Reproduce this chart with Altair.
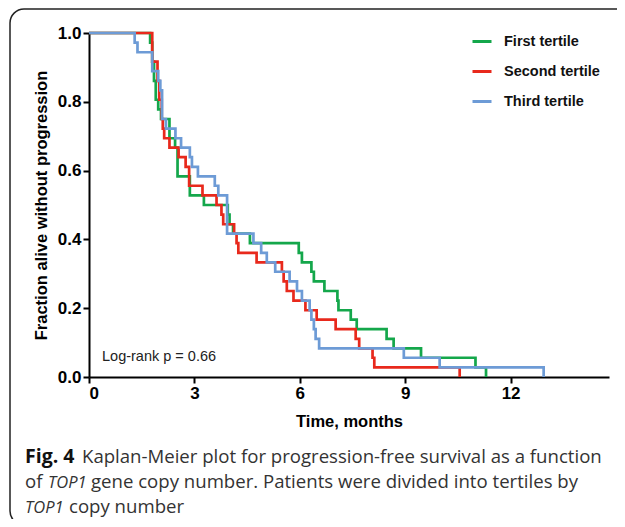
import altair as alt
import pandas as pd

# ---- data ----
series_names = ["First tertile", "Second tertile", "Third tertile"]
series_colors = ["#14a74b", "#e8291c", "#6d9bd6"]

first_t = [0, 1.74, 1.80, 1.85, 1.90, 1.97, 2.05, 2.29, 2.45, 2.52, 2.87, 3.27, 3.95, 4.00, 4.10, 4.58,
           5.97, 6.06, 6.33, 6.40, 6.70, 7.07, 7.10, 7.45, 7.62, 8.47, 8.67, 9.45, 11.0, 11.3]
first_s = [1.0, 0.972, 0.917, 0.861, 0.806, 0.778, 0.75, 0.694, 0.667, 0.583, 0.528, 0.50, 0.472, 0.444,
           0.417, 0.389, 0.361, 0.333, 0.306, 0.278, 0.25, 0.222, 0.194, 0.167, 0.139, 0.111, 0.083,
           0.056, 0.028, 0.0]

second_t = [0, 1.80, 1.95, 2.00, 2.07, 2.10, 2.14, 2.29, 2.55, 2.75, 2.85, 3.23, 3.63, 3.77, 3.82, 4.13,
            4.20, 4.25, 4.77, 5.49, 5.54, 5.63, 5.82, 6.16, 6.48, 7.02, 7.59, 7.69, 8.07, 8.12, 10.55]
second_s = [1.0, 0.917, 0.861, 0.806, 0.75, 0.722, 0.694, 0.667, 0.639, 0.611, 0.556, 0.528, 0.50, 0.472,
            0.444, 0.417, 0.389, 0.361, 0.333, 0.306, 0.278, 0.25, 0.222, 0.194, 0.167, 0.139, 0.111,
            0.083, 0.056, 0.028, 0.0]

third_t = [0, 1.30, 1.38, 1.80, 1.97, 2.03, 2.08, 2.19, 2.46, 2.62, 2.87, 2.93, 3.10, 3.58, 3.68, 3.93,
           4.68, 4.90, 5.06, 5.30, 5.71, 5.92, 6.06, 6.28, 6.33, 6.40, 6.45, 6.55, 8.96, 9.98, 12.94]
third_s = [1.0, 0.972, 0.944, 0.889, 0.861, 0.833, 0.75, 0.722, 0.694, 0.667, 0.639, 0.611, 0.583, 0.556,
           0.528, 0.417, 0.389, 0.361, 0.333, 0.306, 0.278, 0.25, 0.222, 0.194, 0.167, 0.139, 0.111,
           0.083, 0.056, 0.028, 0.0]

x_ticks = [0, 3, 6, 9, 12]
y_ticks = [0.0, 0.2, 0.4, 0.6, 0.8, 1.0]
annotation = "Log-rank p = 0.66"
annotation_t = [0.37]
annotation_s = [0.058]

caption_line1 = ["Fig. 4", "Kaplan-Meier plot for progression-free survival as a function"]
caption_line2 = ["of", "TOP1", "gene copy number. Patients were divided into tertiles by"]
caption_line3 = ["TOP1", "copy number"]

# ---- build tables ----
rows = []
for name, ts, ss in zip(series_names, [first_t, second_t, third_t], [first_s, second_s, third_s]):
    for t, s in zip(ts, ss):
        rows.append({"series": name, "t": t, "s": s})
km = pd.DataFrame(rows)
one = pd.DataFrame({"k": [0]})
ann = pd.DataFrame({"t": annotation_t, "s": annotation_s, "label": [annotation]})

AX_FONT = "Liberation Sans"

frame = alt.Chart(one).mark_rect(
    filled=False, stroke="#222222", strokeWidth=1.5, cornerRadius=14
).encode(x=alt.value(-79), x2=alt.value(560), y=alt.value(-24), y2=alt.value(492))

lines = alt.Chart(km).mark_line(interpolate="step-after", strokeWidth=2.7).encode(
    x=alt.X("t:Q",
            scale=alt.Scale(domain=[0, 14.8], nice=False, zero=True),
            axis=alt.Axis(values=x_ticks, title="Time, months", titlePadding=12)),
    y=alt.Y("s:Q",
            scale=alt.Scale(domain=[0, 1], nice=False),
            axis=alt.Axis(values=y_ticks, format=".1f", title="Fraction alive without progression",
                          titlePadding=8)),
    color=alt.Color("series:N",
                    scale=alt.Scale(domain=series_names, range=series_colors),
                    legend=alt.Legend(orient="none", legendX=382, legendY=-2.5, title=None,
                                      symbolType="stroke", symbolSize=361, symbolStrokeWidth=3,
                                      labelFont=AX_FONT, labelFontWeight="bold", labelFontSize=14.5,
                                      labelColor="#111111", labelOffset=11, rowPadding=12,
                                      padding=0)),
)

ann_text = alt.Chart(ann).mark_text(
    align="left", baseline="middle", font=AX_FONT, fontSize=14.5, color="#222222"
).encode(x="t:Q", y="s:Q", text="label:N")

CAP_FONT = "Open Sans"
CAP_SIZE = 18.6
def cap(txt, px, py, weight="normal", style="normal", color="#333333", size=CAP_SIZE):
    return alt.Chart(one).mark_text(
        align="left", baseline="alphabetic", font=CAP_FONT, fontSize=size,
        fontWeight=weight, fontStyle=style, color=color
    ).encode(x=alt.value(px), y=alt.value(py), text=alt.value(txt))

cap_layers = [
    cap(caption_line1[0], 25 - 89, 463 - 33, weight="bold", color="#111111", size=19.5),
    cap(caption_line1[1], 82 - 89, 463 - 33),
    cap(caption_line2[0], 25 - 89, 488 - 33),
    cap(caption_line2[1], 48 - 89, 488 - 33, style="italic", size=16.5),
    cap(caption_line2[2], 91 - 89, 488 - 33),
    cap(caption_line3[0], 25 - 89, 513 - 33, style="italic", size=16.5),
    cap(caption_line3[1], 69 - 89, 513 - 33),
]

chart = alt.layer(frame, lines, ann_text, *cap_layers).properties(
    width=520, height=344,
    autosize=alt.AutoSizeParams(type="none"),
    padding={"left": 81, "top": 25, "right": 8, "bottom": 142},
).configure_view(stroke=None).configure_axis(
    grid=False, domainColor="#000000", domainWidth=2, tickColor="#000000", tickWidth=2,
    tickSize=6, labelPadding=2, labelFont=AX_FONT, labelFontWeight="bold", labelFontSize=17,
    labelColor="#000000", titleFont=AX_FONT, titleFontWeight="bold", titleFontSize=16.5,
    titleColor="#000000"
)

chart.save("out.html", embed_options={"renderer": "svg", "actions": False})
